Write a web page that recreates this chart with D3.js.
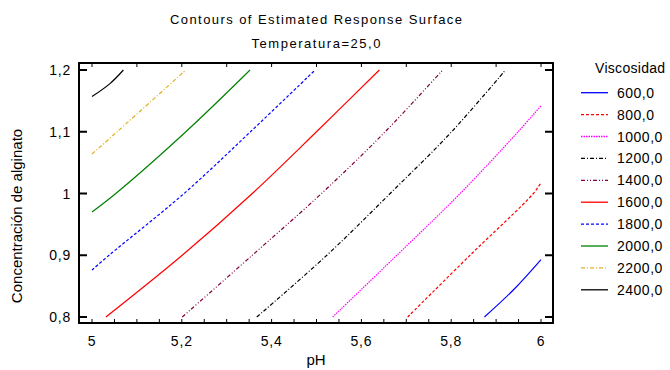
<!DOCTYPE html>
<html>
<head>
<meta charset="utf-8">
<script src="https://cdn.jsdelivr.net/npm/d3@7"></script>
<style>
  body { margin: 0; background: #fff; }
  svg { font-family: "Liberation Sans", Arial, sans-serif; }
  .frame { fill: none; stroke: #000; stroke-width: 2; }
  .tick-line { stroke: #000; }
  .contour { fill: none; stroke-width: 1.2; }
</style>
</head>
<body>
<div id="chart"></div>
<script>
// contour levels (Viscosidad) and their points [pH, concentracion]
var levels = [600, 800, 1000, 1200, 1400, 1600, 1800, 2000, 2200, 2400];

var c600  = [[5.874, 0.8], [5.94, 0.845], [6.0, 0.893]];
var c800  = [[5.703, 0.8], [5.842, 0.9], [5.983, 1.0], [6.0, 1.0175]];
var c1000 = [[5.536, 0.8], [5.679, 0.9], [5.820, 1.0], [5.949, 1.1], [6.0, 1.142]];
var c1200 = [[5.367, 0.8], [5.523, 0.9], [5.664, 1.0], [5.801, 1.1], [5.921, 1.2]];
var c1400 = [[5.201, 0.8], [5.357, 0.9], [5.511, 1.0], [5.653, 1.1], [5.781, 1.2]];
var c1600 = [[5.031, 0.8], [5.201, 0.9], [5.357, 1.0], [5.500, 1.1], [5.640, 1.2]];
var c1800 = [[5.0, 0.876], [5.038, 0.9], [5.205, 1.0], [5.353, 1.1], [5.497, 1.2]];
var c2000 = [[5.0, 0.970], [5.053, 1.0], [5.209, 1.1], [5.352, 1.2]];
var c2200 = [[5.0, 1.064], [5.056, 1.1], [5.209, 1.2]];
var c2400 = [[5.0, 1.157], [5.040, 1.178], [5.070, 1.2]];

var xTicks = [5, 5.2, 5.4, 5.6, 5.8, 6];
var yTicks = [0.8, 0.9, 1, 1.1, 1.2];

var title = "Contours of Estimated Response Surface";
var subtitle = "Temperatura=25,0";
var xTitle = "pH";
var yTitle = "Concentración de alginato";
var legendTitle = "Viscosidad";

// styles per level (same order as levels)
var colors = ["#0000ff", "#ff0000", "#ff00ff", "#000000", "#800040",
              "#ff0000", "#0000ff", "#008000", "#e0b020", "#000000"];
var dashes = [null, "3,2", "1.5,1", "4,2,1,2", "4,2,1,2,1,2",
              null, "3,2", null, "4,2,1,2", null];

var contours = [c600, c800, c1000, c1200, c1400, c1600, c1800, c2000, c2200, c2400];

// frame of the plot
var frame = {left: 79, top: 63, right: 553, bottom: 323};

var svg = d3.select("#chart").append("svg")
    .attr("width", 670)
    .attr("height", 370);

var x = d3.scaleLinear()
    .domain([5, 6])
    .range([frame.left + 13, frame.right - 12]);

var y = d3.scaleLinear()
    .domain([0.8, 1.2])
    .range([frame.bottom - 6, frame.top + 7]);

var comma = function(v) { return String(v).replace(".", ","); };

// titles
svg.append("text")
    .attr("x", (frame.left + frame.right) / 2)
    .attr("y", 24)
    .attr("text-anchor", "middle")
    .attr("textLength", 292)
    .attr("lengthAdjust", "spacing")
    .style("font-size", "13px")
    .text(title);

svg.append("text")
    .attr("x", (frame.left + frame.right) / 2)
    .attr("y", 48)
    .attr("text-anchor", "middle")
    .attr("textLength", 129)
    .attr("lengthAdjust", "spacing")
    .style("font-size", "13px")
    .text(subtitle);

// clip contours to the frame
svg.append("clipPath")
    .attr("id", "clip")
    .append("rect")
    .attr("x", frame.left)
    .attr("y", frame.top)
    .attr("width", frame.right - frame.left)
    .attr("height", frame.bottom - frame.top);

var line = d3.line()
    .curve(d3.curveCatmullRom)
    .x(function(d) { return x(d[0]); })
    .y(function(d) { return y(d[1]); });

svg.append("g")
    .attr("clip-path", "url(#clip)")
    .selectAll("path")
    .data(contours)
    .enter().append("path")
    .attr("class", "contour")
    .attr("d", line)
    .style("stroke", function(d, i) { return colors[i]; })
    .style("stroke-dasharray", function(d, i) { return dashes[i]; });

// ticks (all pointing inside)
var bottomTicks = d3.range(0, 21).map(function(i) { return 5 + i * 0.05; });
var topTicks = d3.range(0, 11).map(function(i) { return 5 + i * 0.1; });

svg.selectAll(".tb")
    .data(bottomTicks)
    .enter().append("line")
    .attr("class", "tick-line")
    .attr("x1", function(d) { return x(d); })
    .attr("x2", function(d) { return x(d); })
    .attr("y1", frame.bottom)
    .attr("y2", frame.bottom - 4);

svg.selectAll(".tt")
    .data(topTicks)
    .enter().append("line")
    .attr("class", "tick-line")
    .attr("x1", function(d) { return x(d); })
    .attr("x2", function(d) { return x(d); })
    .attr("y1", frame.top)
    .attr("y2", frame.top + 4);

svg.selectAll(".tl")
    .data(yTicks)
    .enter().append("line")
    .attr("class", "tick-line")
    .style("stroke-width", 2)
    .attr("x1", frame.left)
    .attr("x2", frame.left + 8)
    .attr("y1", function(d) { return y(d); })
    .attr("y2", function(d) { return y(d); });

svg.selectAll(".tr")
    .data(yTicks)
    .enter().append("line")
    .attr("class", "tick-line")
    .style("stroke-width", 2)
    .attr("x1", frame.right)
    .attr("x2", frame.right - 8)
    .attr("y1", function(d) { return y(d); })
    .attr("y2", function(d) { return y(d); });

svg.append("rect")
    .attr("class", "frame")
    .attr("x", frame.left)
    .attr("y", frame.top)
    .attr("width", frame.right - frame.left)
    .attr("height", frame.bottom - frame.top);

// tick labels
svg.selectAll(".xl")
    .data(xTicks)
    .enter().append("text")
    .attr("x", function(d) { return x(d); })
    .attr("y", 346)
    .attr("text-anchor", "middle")
    .style("font-size", "14px")
    .style("letter-spacing", "0.8px")
    .text(comma);

svg.selectAll(".yl")
    .data(yTicks)
    .enter().append("text")
    .attr("x", 71)
    .attr("y", function(d) { return y(d) + 5; })
    .attr("text-anchor", "end")
    .style("font-size", "14px")
    .style("letter-spacing", "0.8px")
    .text(comma);

// axis titles
svg.append("text")
    .attr("x", (frame.left + frame.right) / 2)
    .attr("y", 365)
    .attr("text-anchor", "middle")
    .style("font-size", "15px")
    .text(xTitle);

svg.append("text")
    .attr("transform", "translate(22," + 216 + ") rotate(-90)")
    .attr("text-anchor", "middle")
    .style("font-size", "15px")
    .text(yTitle);

// legend
svg.append("text")
    .attr("x", 595)
    .attr("y", 73)
    .style("font-size", "14px")
    .style("letter-spacing", "0.3px")
    .text(legendTitle);

var legend = svg.selectAll(".legend")
    .data(levels)
    .enter().append("g")
    .attr("class", "legend")
    .attr("transform", function(d, i) { return "translate(581," + (92.7 + i * 21.9) + ")"; });

legend.append("line")
    .attr("x1", 0)
    .attr("x2", 27)
    .style("stroke-width", 1.3)
    .style("stroke", function(d, i) { return colors[i]; })
    .style("stroke-dasharray", function(d, i) { return dashes[i]; });

legend.append("text")
    .attr("x", 36)
    .attr("y", 5)
    .style("font-size", "14px")
    .style("letter-spacing", "0.5px")
    .text(function(d) { return d3.format(".1f")(d).replace(".", ","); });
</script>
</body>
</html>
